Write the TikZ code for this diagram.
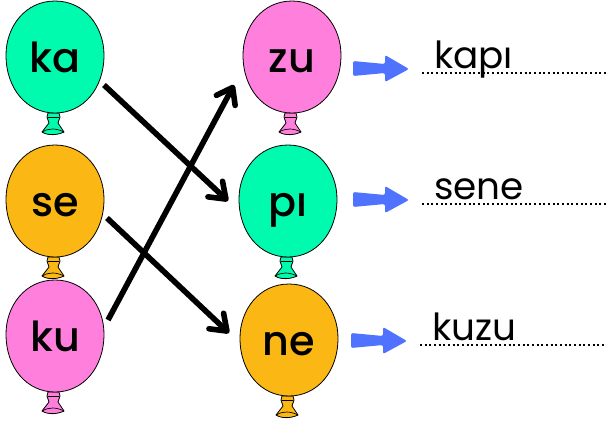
\documentclass[tikz,border=0pt]{standalone}
\usepackage{fontspec}
\usepackage{xcolor}
\setmainfont{Poppins}
\newfontfamily\midfont{Poppins Medium}
\usetikzlibrary{arrows.meta}
\definecolor{mintballoon}{HTML}{00FBAE}
\definecolor{orangeballoon}{HTML}{FBB714}
\definecolor{pinkballoon}{HTML}{FF7FDC}
\definecolor{bluearrow}{HTML}{5073FF}
\tikzset{
  syllable/.style={font=\midfont\fontsize{31}{31}\selectfont,inner sep=0pt,anchor=base},
  written/.style={font=\fontsize{28}{28}\selectfont,inner sep=0pt,anchor=base west},
  matchline/.style={line width=4.2pt,-{Straight Barb[length=11pt,width=16pt,line width=4.2pt,round]}},
  writeline/.style={line width=1.8pt,dash pattern=on 1.6pt off 1.9pt},
}
\begin{document}
\begin{tikzpicture}[x=0.75pt,y=-0.75pt]
    \useasboundingbox (0,0) rectangle (608,426);
    % balloons
    \foreach \x/\y/\c/\t/\n in {55/57/mintballoon/ka/ka,55/201/orangeballoon/se/se,55/336/pinkballoon/ku/ku,
      292/57/pinkballoon/zu/zu,288/201/mintballoon/pı/pi,289/340/orangeballoon/ne/ne}{
      \begin{scope}[shift={(\x,\y)}]
        % knot
        \draw[fill=\c,line width=0.6pt,line join=round] (-7,56) to (-8,60) to (-6,66) to (-13,75)
          .. controls (-7,79) and (3,78) .. (9,75) to (3,66) to (5,60) to (4,56) -- cycle;
        \draw[line width=0.5pt] (-7,60) to (4,60);
        \draw[line width=0.5pt] (-13,75) .. controls (-6,71) and (1,71) .. (9,75);
        \draw[fill=\c,line width=0.6pt] (0,-56) .. controls (30,-56) and (49,-30) .. (49,-2)
          .. controls (49,32) and (28,56) .. (0,56)
          .. controls (-28,56) and (-49,32) .. (-49,-2)
          .. controls (-49,-30) and (-30,-56) .. (0,-56) -- cycle;
        \node[syllable] (\n) at (0,15) {\t};
      \end{scope}
    }
    % matching arrows
    \coordinate (kastart) at (104,85);
    \coordinate (piend) at (228,201);
    \coordinate (sestart) at (107,218);
    \coordinate (neend) at (229,333);
    \coordinate (kustart) at (108,320);
    \coordinate (zuend) at (234,85);
    \draw[matchline] (kastart) to (piend);
    \draw[matchline] (sestart) to (neend);
    \draw[matchline] (kustart) to (zuend);
    % answers
    \foreach \x/\y/\t/\n in {422/73/kapı/kapi,422/204/sene/sene,420/345/kuzu/kuzu}{
      \begin{scope}[shift={(\x,\y)}]
        \fill[bluearrow,rounded corners=1.5pt] (-69,-12) -- (-37,-9) -- (-37,-18) -- (-13,-4)
          -- (-37,9) -- (-37,0) -- (-69,3) -- cycle;
        \coordinate (\n line) at (0,0);
        \coordinate (\n end) at (185,0);
        \draw[writeline] (\n line) to (\n end);
        \node[written] (\n) at (12,-5) {\t};
      \end{scope}
    }
\end{tikzpicture}
\end{document}
